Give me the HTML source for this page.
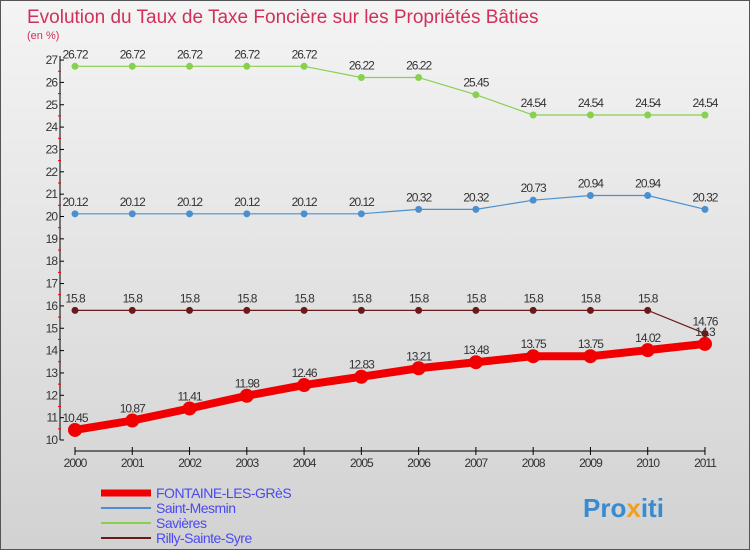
<!DOCTYPE html>
<html><head><meta charset="utf-8"><style>
body{margin:0;}
#c{width:748px;height:548px;border:1px solid #555;background:linear-gradient(#f4f4f4,#d2d2d2);position:relative;font-family:"Liberation Sans",sans-serif;overflow:hidden}
svg text{font-family:"Liberation Sans",sans-serif}
</style></head><body>
<div id="c">
<svg id="s" width="748" height="548">
<text x="26" y="22" font-size="19" fill="#d0305a">Evolution du Taux de Taxe Foncière sur les Propriétés Bâties</text>
<text x="26" y="38" font-size="11" fill="#d0305a">(en %)</text>
<g id="g"></g>
<text x="582" y="516" font-size="26" font-weight="bold" fill="#3a8ad0">Pro<tspan fill="#f0a020">x</tspan>iti</text>
</svg>
</div>
<script>
const years=[2000,2001,2002,2003,2004,2005,2006,2007,2008,2009,2010,2011];
const yTicks=[10,11,12,13,14,15,16,17,18,19,20,21,22,23,24,25,26,27];
const fontaine=[10.45,10.87,11.41,11.98,12.46,12.83,13.21,13.48,13.75,13.75,14.02,14.3];
const mesmin=[20.12,20.12,20.12,20.12,20.12,20.12,20.32,20.32,20.73,20.94,20.94,20.32];
const savieres=[26.72,26.72,26.72,26.72,26.72,26.22,26.22,25.45,24.54,24.54,24.54,24.54];
const rilly=[15.8,15.8,15.8,15.8,15.8,15.8,15.8,15.8,15.8,15.8,15.8,14.76];
const names=["FONTAINE-LES-GRèS","Saint-Mesmin","Savières","Rilly-Sainte-Syre"];
const NS="http://www.w3.org/2000/svg";
const g=document.getElementById('g');
const X=i=>74+i*57.27;
const Y=v=>439-(v-10)*22.35;
function el(t,a,txt){const e=document.createElementNS(NS,t);for(const k in a)e.setAttribute(k,a[k]);if(txt!==undefined)e.textContent=txt;g.appendChild(e);return e;}
let e=el('line',{x1:59,y1:Y(27)-4,x2:59,y2:Y(10),stroke:'#000'});

e=el('line',{x1:X(0),y1:450,x2:X(11),y2:450,stroke:'#000'});

yTicks.forEach(v=>{
 el('line',{x1:59,y1:Y(v),x2:63,y2:Y(v),stroke:'#000'});
 if(v<27){let m=el('line',{x1:57,y1:Y(v+0.5),x2:60,y2:Y(v+0.5),stroke:'#e00'});}
 let t=el('text',{x:56,y:Y(v)+4,'font-size':12,'text-anchor':'end',fill:'#333','letter-spacing':'-1'},v);
 
});
years.forEach((y,i)=>{
 el('line',{x1:X(i),y1:446,x2:X(i),y2:454,stroke:'#000'});
 let t=el('text',{x:X(i),y:466,'font-size':12,'text-anchor':'middle',fill:'#333','letter-spacing':'-1'},y);
 
});
function series(d,col,w,r,nm){
 let p=el('polyline',{points:d.map((v,i)=>X(i)+','+Y(v)).join(' '),fill:'none',stroke:col,'stroke-width':w});
 
 d.forEach((v,i)=>{
  let c=el('circle',{cx:X(i),cy:Y(v),r:r,fill:col});
  
  let t=el('text',{x:X(i),y:Y(v)-8,'font-size':12,'text-anchor':'middle',fill:'#333','letter-spacing':'-1'},v);
  
 });
}
series(savieres,'#88d050',1.2,3.5,'savieres');
series(mesmin,'#4a90d0',1.2,3.5,'saint-mesmin');
series(rilly,'#6a1a1a',1.2,3.5,'rilly');
series(fontaine,'#f00000',8,7,'fontaine');
const lc=['#f00000','#4a90d0','#88d050','#6a1a1a'],lw=[7,2,2,2];
names.forEach((n,i)=>{
 let y=492+i*15;
 let l=el('line',{x1:100,y1:y,x2:150,y2:y,stroke:lc[i],'stroke-width':lw[i]});
 
 let t=el('text',{x:155,y:y+5,'font-size':14,fill:'#4a4af0','letter-spacing':'-0.5'},n);
 
});
</script>
</body></html>
